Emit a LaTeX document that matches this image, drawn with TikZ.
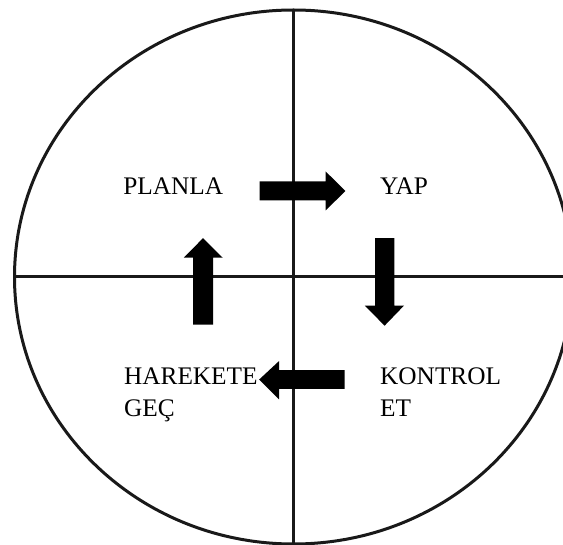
\documentclass[tikz,border=0pt]{standalone}
\usepackage{fontspec}
\setmainfont{Liberation Serif}
\begin{document}
\begin{tikzpicture}[x=1pt,y=-1pt,
  lbl/.style={anchor=north west,inner sep=0pt,align=left,font=\fontsize{25.3}{32.3}\selectfont},
  axis/.style={line width=3pt,black!90},
  blk/.style={fill=black,draw=none}]
\useasboundingbox (0,0) rectangle (563,545);
\begin{scope}
\clip (0,0) rectangle (563,545);
\coordinate (c) at (293.5,277);
\draw[axis] (c) ellipse [x radius=279, y radius=267];
\coordinate (top) at (293.5,10);
\coordinate (bot) at (293.5,544);
\coordinate (lft) at (14.5,277);
\coordinate (rgt) at (563,277);
\draw[axis] (top) -- (bot);
\draw[axis] (lft) -- (rgt);
\end{scope}
% block arrows
\fill[blk] (259.6,181.3) -- (325.7,181.3) -- (325.7,171.5) -- (345.4,191) -- (325.7,210.4) -- (325.7,200.3) -- (259.6,200.3) -- cycle;
\fill[blk] (375.2,238.2) -- (394.3,238.2) -- (394.3,305.6) -- (404,305.6) -- (384.6,325.7) -- (364.8,305.6) -- (375.2,305.6) -- cycle;
\fill[blk] (344.7,370.1) -- (279,370.1) -- (279,361.1) -- (259.2,379.5) -- (279,399.3) -- (279,388.9) -- (344.7,388.9) -- cycle;
\fill[blk] (193.2,324.7) -- (193.2,257.6) -- (183.8,257.6) -- (203,238.2) -- (222.6,257.6) -- (213,257.6) -- (213,324.7) -- cycle;
% labels
\node[lbl] (plan) at (123.2,177.8) {PLANLA};
\node[lbl] (yap) at (380,177.8) {YAP};
\node[lbl] (kont) at (380,367.4) {KONTROL\\ET};
\node[lbl] (hare) at (123.9,367.4) {HAREKETE\\GEÇ};
\end{tikzpicture}
\end{document}
